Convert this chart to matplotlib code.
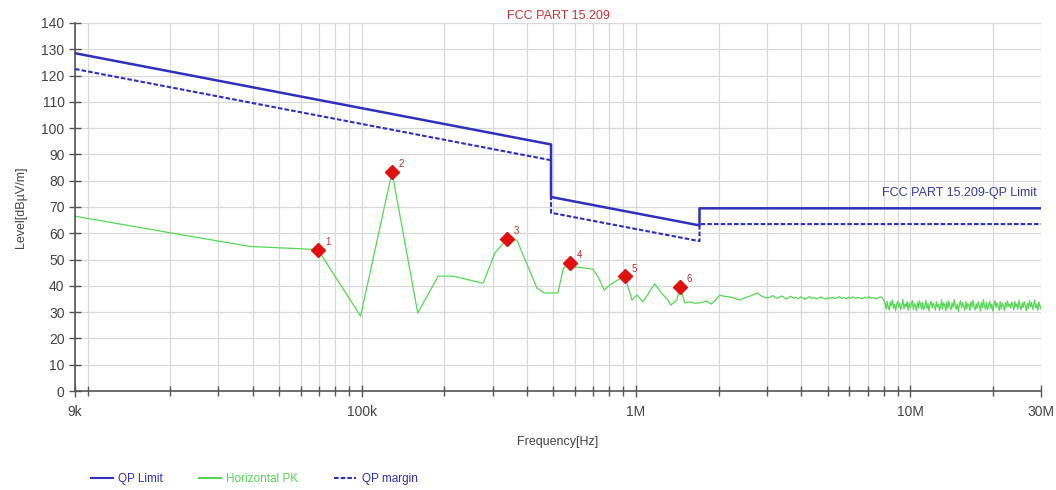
import numpy as np
import matplotlib
matplotlib.use("Agg")
import matplotlib.pyplot as plt
from matplotlib.ticker import FixedLocator, NullFormatter

plt.rcParams['font.family'] = ['Liberation Sans Narrow', 'Liberation Sans', 'DejaVu Sans']

# ---------------- data ----------------
limit_freq = [9e3, 490e3, 490e3, 1.705e6, 1.705e6, 30e6]
limit_level = [128.5, 93.8, 73.8, 63.0, 69.5, 69.5]
margin_level = [122.5, 87.8, 67.8, 57.0, 63.5, 63.5]

# Horizontal PK trace, explicit points (9 kHz - 3 MHz)
pk_freq_a = [9e3, 20e3, 39e3, 69.2e3, 99e3, 128.9e3, 160e3, 190e3, 215e3, 277e3,
             306e3, 338e3, 368e3, 394e3, 435e3, 463e3, 519e3, 544e3, 574e3, 598e3,
             697e3, 731e3, 766e3, 802e3, 860e3, 910e3, 967e3, 1010e3, 1060e3, 1170e3,
             1244e3, 1300e3, 1340e3, 1410e3, 1446e3, 1510e3, 1570e3, 1640e3, 1710e3, 1800e3,
             1880e3, 1950e3, 2020e3, 2100e3, 2200e3, 2300e3, 2390e3, 2500e3, 2620e3, 2770e3,
             2880e3, 3000e3]
pk_level_a = [66.5, 60.2, 55.0, 53.8, 28.5, 83.3, 29.7, 43.7, 43.7, 41.0,
              52.5, 57.8, 57.4, 50.0, 39.2, 37.3, 37.3, 46.8, 48.7, 47.2,
              46.4, 43.0, 38.4, 40.3, 42.3, 43.6, 34.6, 36.5, 33.9, 40.8,
              37.0, 35.0, 32.7, 34.6, 39.6, 33.5, 33.9, 33.4, 33.5, 34.2,
              33.1, 34.5, 36.5, 36.0, 35.8, 35.2, 34.6, 35.5, 36.2, 37.3,
              36.0, 35.4]

# sweep 3.1 MHz - 7.95 MHz
pk_level_b = [35.8, 36.3, 35.6, 35.2, 35.9, 36.1, 35.4, 35.0, 35.7, 36.0,
              35.3, 35.6, 35.1, 35.8, 35.4, 34.9, 35.5, 35.9, 35.2, 35.6,
              35.0, 35.4, 35.8, 35.3, 34.9, 35.6, 35.2, 35.7, 35.1, 35.5,
              35.9, 35.2, 35.6, 35.0, 35.7, 35.3, 35.8, 35.2, 35.6, 35.4,
              35.1, 35.7, 35.3, 35.9, 35.2, 35.6, 35.0, 35.5, 35.8, 35.3]

# sweep 8.1 MHz - 30 MHz
pk_level_c = [33.5, 31.2, 34.1, 32.0, 30.8, 33.9, 32.4, 34.6, 31.5, 33.0,
              30.5, 32.8, 34.2, 31.9, 33.4, 30.9, 32.6, 34.8, 31.3, 33.1,
              32.0, 34.0, 30.7, 33.6, 31.8, 32.9, 34.4, 31.0, 33.3, 32.2,
              30.6, 33.8, 31.6, 34.3, 32.5, 31.1, 33.7, 30.9, 32.7, 34.5,
              31.4, 33.2, 30.4, 32.9, 34.1, 31.7, 33.5, 32.1, 30.8, 34.0,
              31.9, 33.0, 30.6, 32.4, 34.6, 31.2, 33.6, 32.3, 30.5, 33.9,
              31.5, 34.2, 32.0, 30.9, 33.4, 31.8, 34.7, 32.6, 31.0, 33.1,
              30.3, 32.8, 34.3, 31.6, 33.7, 32.2, 30.7, 34.1, 31.3, 33.3,
              32.5, 30.6, 33.9, 31.9, 34.5, 32.0, 30.8, 33.2, 31.4, 34.0,
              32.7, 30.5, 33.6, 31.7, 34.8, 32.3, 31.1, 33.8, 30.9, 32.6,
              34.2, 31.5, 33.0, 30.4, 32.9, 34.4, 31.8, 33.5, 32.1, 30.7,
              34.0, 31.2, 33.4, 32.4, 30.6, 33.7, 31.9, 34.3, 32.2, 33.0,
              31.6, 33.8, 32.5, 30.8, 34.1, 32.0, 33.2, 31.1, 34.5, 32.3,
              30.9, 33.6, 31.8, 34.0, 32.6, 30.5, 33.3, 31.4, 34.4, 32.1,
              33.7, 31.0, 32.8, 34.6, 31.5, 33.1, 30.7, 33.9, 32.4, 31.2]

marker_freq = [69.2e3, 128.9e3, 338e3, 574e3, 910e3, 1446e3]
marker_level = [53.8, 83.3, 57.8, 48.7, 43.6, 39.6]
marker_labels = ["1", "2", "3", "4", "5", "6"]

xtick_vals = [9e3, 1e5, 1e6, 1e7, 3e7]
xtick_labels = ["9k", "100k", "1M", "10M", "30M"]
ytick_vals = list(range(0, 141, 10))

# -------------- build sweep ----------------
pk_freq = np.concatenate([pk_freq_a,
                          np.geomspace(3.1e6, 7.95e6, len(pk_level_b)),
                          np.geomspace(8.1e6, 30e6, len(pk_level_c))])
pk_level = np.concatenate([pk_level_a, pk_level_b, pk_level_c])

# -------------- figure ----------------
fig = plt.figure(figsize=(10.56, 4.9), dpi=100)
ax = fig.add_axes([75/1056, 99/490, (1041-75)/1056, 368/490])

blue = '#2f2fc0'
green = '#55d855'
grid_c = '#d9d9d9'
txt_c = '#444444'

ax.plot(limit_freq, limit_level, color=blue, lw=1.8, label='QP Limit', zorder=3)
ax.plot(pk_freq, pk_level, color=green, lw=0.9, label='Horizontal PK', zorder=2)
ax.plot(limit_freq, margin_level, color=blue, lw=1.5, ls=(0, (2.2, 1.0)),
        label='QP margin', zorder=3)

ax.plot(marker_freq, marker_level, ls='none', marker='D', ms=7,
        color='#e01010', zorder=4)
for f, l, t in zip(marker_freq, marker_level, marker_labels):
    ax.annotate(t, (f, l), xytext=(5, 2), textcoords='offset points',
                fontsize=7, color='#c03030', ha='left', va='bottom')

ax.set_xscale('log')
ax.set_xlim(9e3, 30e6)
ax.set_ylim(0, 140)

minor = []
for dec in [1e4, 1e5, 1e6, 1e7]:
    for m in range(1, 10):
        v = m * dec
        if 9e3 <= v <= 30e6 and v not in xtick_vals:
            minor.append(v)
ax.xaxis.set_major_locator(FixedLocator(xtick_vals))
ax.set_xticklabels(xtick_labels)
ax.xaxis.set_minor_locator(FixedLocator(minor))
ax.xaxis.set_minor_formatter(NullFormatter())
ax.set_yticks(ytick_vals)

ax.grid(True, which='both', color=grid_c, lw=0.9)
ax.set_axisbelow(True)
for s in ['top', 'right']:
    ax.spines[s].set_visible(False)
for s in ['left', 'bottom']:
    ax.spines[s].set_color('#555555')
    ax.spines[s].set_linewidth(1.2)

ax.tick_params(axis='both', which='both', direction='inout', color='#555555',
               labelcolor=txt_c, labelsize=10)
ax.tick_params(axis='y', length=8, width=1)
ax.tick_params(axis='x', which='major', length=8, width=1, pad=6)
ax.tick_params(axis='x', which='minor', length=7, width=1)

ax.set_xlabel('Frequency[Hz]', fontsize=9, color=txt_c, labelpad=12)
ax.set_ylabel('Level[dBµV/m]', fontsize=9, color=txt_c, labelpad=10)
ax.set_title('FCC PART 15.209', fontsize=9, color='#cc3333', pad=3)

ax.text(29e6, 73, 'FCC PART 15.209-QP Limit', ha='right', va='bottom',
        fontsize=9, color='#3a3aa0')

leg = fig.legend(loc='lower left', bbox_to_anchor=(80/1056, -0.012), ncol=3,
                 frameon=False, fontsize=8.5, handlelength=1.9,
                 handletextpad=0.45, columnspacing=3.0, labelcolor='linecolor')
for h in leg.get_lines():
    h.set_linewidth(1.5)

fig.savefig('out.png', dpi=100)
